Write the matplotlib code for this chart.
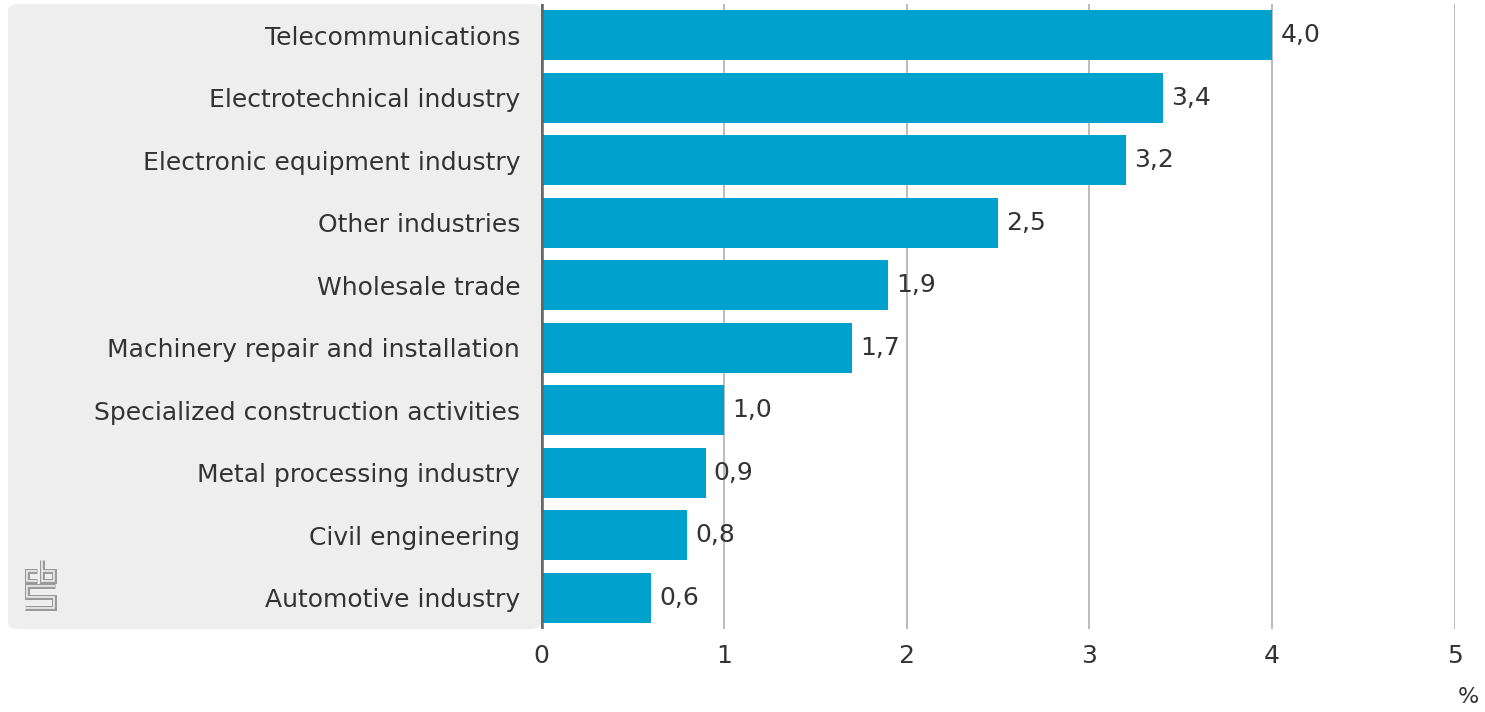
import matplotlib.pyplot as plt
from matplotlib.patches import FancyBboxPatch
from matplotlib.lines import Line2D

categories = ["Telecommunications", "Electrotechnical industry", "Electronic equipment industry",
              "Other industries", "Wholesale trade", "Machinery repair and installation",
              "Specialized construction activities", "Metal processing industry",
              "Civil engineering", "Automotive industry"]
values = [4.0, 3.4, 3.2, 2.5, 1.9, 1.7, 1.0, 0.9, 0.8, 0.6]
xticks = [0, 1, 2, 3, 4, 5]

plt.rcParams['font.family'] = ['DejaVu Sans']
W, H = 1485, 712
fig = plt.figure(figsize=(W / 100, H / 100), dpi=100)

# grey panel behind the labels
panel = FancyBboxPatch((8 / W, (H - 629) / H), (541 - 8) / W, 625 / H,
                       boxstyle="round,pad=0,rounding_size=0.008",
                       transform=fig.transFigure, facecolor='#eeeeee', edgecolor='none', zorder=-5)
fig.patches.append(panel)

ax = fig.add_axes([541 / W, (H - 629) / H, 914 / W, 625 / H])
ax.patch.set_alpha(0)
y = list(range(len(categories)))
ax.barh(y, values, height=0.8, color='#00a1cd', zorder=2)
ax.set_ylim(len(categories) - 0.5, -0.5)
ax.set_xlim(0, 5)
ax.set_xticks(xticks)
ax.set_xticklabels([str(t) for t in xticks], fontsize=18, color='#333333')
ax.set_yticks(y)
ax.set_yticklabels(categories, fontsize=18, color='#333333')
ax.tick_params(axis='both', length=0, pad=11)
ax.tick_params(axis='y', pad=15)
for s in ax.spines.values():
    s.set_visible(False)
for t in xticks[1:]:
    ax.axvline(t, color='#b0b0b0', lw=1.2, zorder=1)
ax.axvline(0, color='#666666', lw=4, zorder=3)

for yi, v in zip(y, values):
    ax.text(v + 0.045, yi, f"{v:.1f}".replace('.', ','), va='center', ha='left',
            fontsize=18, color='#333333')

fig.text(1468 / W, (H - 697) / H, "%", ha='center', va='center', fontsize=16, color='#333333')


# small cbs logo, outlined strokes
def logo_stroke(px, py):
    xs = [p / W for p in px]
    ys = [(H - p) / H for p in py]
    fig.lines.append(Line2D(xs, ys, transform=fig.transFigure, color='#9a9a9a', lw=3.6,
                            solid_joinstyle='miter', solid_capstyle='butt'))
    fig.lines.append(Line2D(xs, ys, transform=fig.transFigure, color='#eeeeee', lw=1.2,
                            solid_joinstyle='miter', solid_capstyle='butt'))


logo_stroke([37, 27, 27, 37], [571, 571, 581, 581])
logo_stroke([42, 42, 54, 54, 42], [560, 581, 581, 571, 571])
logo_stroke([55, 27, 27, 54, 54, 25], [586, 586, 597, 597, 608, 608])

fig.savefig("out.png", dpi=100)
